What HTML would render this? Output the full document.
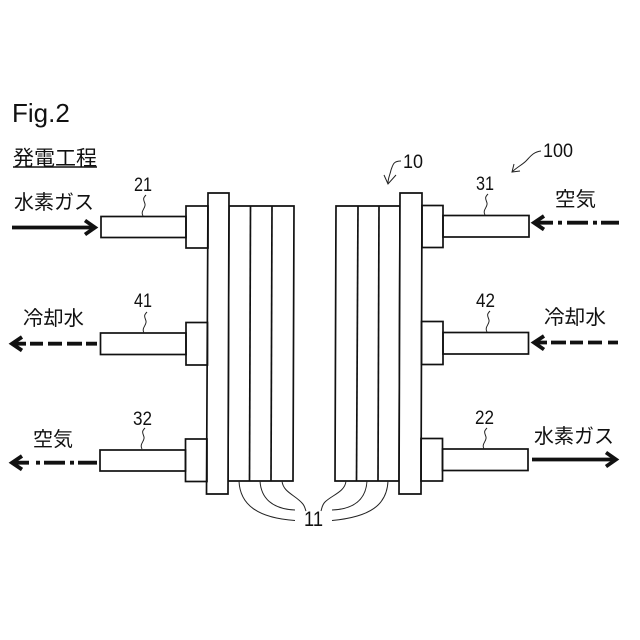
<!DOCTYPE html>
<html><head><meta charset="utf-8"><style>
html,body{margin:0;padding:0;background:#fff}
svg{display:block}
text{font-family:"Liberation Sans","Noto Sans CJK JP",sans-serif;fill:#111}
</style></head><body>
<svg width="640" height="640" viewBox="0 0 640 640" xmlns="http://www.w3.org/2000/svg">
<rect width="640" height="640" fill="#fff"/>
<g fill="none" stroke="#111" stroke-width="1.7">
<!-- left stack -->
<polygon points="229,206 294,206 293,481 228,481"/>
<line x1="250.5" y1="206" x2="249.5" y2="481"/>
<line x1="272" y1="206" x2="271" y2="481"/>
<polygon points="208,193 229,193 228,494 206.5,494" fill="#fff"/>
<rect x="186" y="206" width="22" height="42"/>
<rect x="101" y="216.5" width="85" height="21"/>
<rect x="186" y="322.5" width="21.5" height="42.5"/>
<rect x="100.5" y="333" width="85.5" height="21.5"/>
<rect x="185.5" y="439" width="21.5" height="42.5"/>
<rect x="100" y="450" width="85.5" height="21"/>
<!-- right stack -->
<polygon points="336,206 400,206 399,481 335,481"/>
<line x1="358" y1="206" x2="356.5" y2="481"/>
<line x1="379" y1="206" x2="378" y2="481"/>
<polygon points="400,193 422,193 421,494 399,494" fill="#fff"/>
<rect x="422" y="205.5" width="21" height="42"/>
<rect x="443" y="215.5" width="86" height="21.5"/>
<rect x="421.5" y="321.5" width="21.5" height="43"/>
<rect x="443" y="332.5" width="85.5" height="21.5"/>
<rect x="421" y="438.5" width="21.5" height="42.5"/>
<rect x="442.5" y="449" width="85.5" height="21.5"/>
</g>
<!-- leader squiggles -->
<g fill="none" stroke="#222" stroke-width="1">
<path d="M143,216 C140,211 146,208 145,204 C144,200 142,199 146,195"/>
<path d="M144,333 C141,328 147,325 146,321 C145,317 143,316 147,312"/>
<path d="M142,449 C139,444 145,441 144,437 C143,433 141,432 145,428"/>
<path d="M485,215 C482,210 488,207 487,203 C486,199 484,198 488,194"/>
<path d="M487,332 C484,327 490,324 489,320 C488,316 486,315 490,311"/>
<path d="M484,449 C481,444 487,441 486,437 C485,433 483,432 487,428"/>
<path d="M401,161 C393,161 393,165 391,170 C390,175 388,178 388,183"/>
<path d="M384,175 L388,184 L396,175"/>
<path d="M541,151 C533,152 530,157 526,161 C522,165 517,167 512,172"/>
<path d="M520,171 L512,172 L514,164"/>
<!-- 11 leaders -->
<path d="M239,481 C240,505 258,518 295,520.5"/>
<path d="M260,481 C261,498 272,509 295,510"/>
<path d="M282,481 C283,492 295,495 302,503 C305,506 305,509 306,511"/>
<path d="M388,481 C387,505 370,517 332,520.5"/>
<path d="M367,481 C366,498 356,509 332,510"/>
<path d="M346,481 C345,492 332,495 325,502 C322,505 322,508 321,511"/>
</g>
<!-- arrows -->
<g fill="none" stroke="#111" stroke-linecap="butt" stroke-linejoin="miter" stroke-width="3.8">
<line x1="12" y1="227.5" x2="93" y2="227.5"/>
<path d="M85,220.5 L95,227.5 L85,234.5"/>
<line x1="532" y1="459.5" x2="614" y2="459.5"/>
<path d="M606,452.5 L616,459.5 L606,466.5"/>
<!-- cooling water, left -->
<path d="M22,337 L12,343.7 L22,350.5"/>
<path d="M13,343.7 H26 M30,343.7 H43 M48,343.7 H62 M67,343.7 H82 M86,343.7 H97"/>
<!-- cooling water, right -->
<path d="M544,336 L534,342.5 L544,349.5"/>
<path d="M535,342.5 H547 M551,342.5 H566 M570,342.5 H583 M588,342.5 H602 M608,342.5 H618"/>
<!-- air, left -->
<path d="M22,456 L12,462.7 L22,469.5"/>
<path d="M13,462.7 H29 M36,462.7 H40 M44,462.7 H65 M70,462.7 H74 M78,462.7 H97"/>
<!-- air, right -->
<path d="M544,216 L534,222.7 L544,229.5"/>
<path d="M535,222.7 H553 M558,222.7 H562 M567,222.7 H588 M593,222.7 H597 M601,222.7 H619"/>
</g>
<!-- text -->
<text x="12" y="122" font-size="26">Fig.2</text>
<text x="13" y="165" font-size="20.5" lengthAdjust="spacingAndGlyphs" textLength="84">発電工程</text>
<line x1="13" y1="167" x2="97" y2="167" stroke="#111" stroke-width="1.6"/>
<text x="14" y="209" font-size="20" textLength="80" lengthAdjust="spacingAndGlyphs">水素ガス</text>
<text x="23" y="325" font-size="20" textLength="61" lengthAdjust="spacingAndGlyphs">冷却水</text>
<text x="33" y="446" font-size="20" textLength="40" lengthAdjust="spacingAndGlyphs">空気</text>
<text x="555" y="206" font-size="20" textLength="41" lengthAdjust="spacingAndGlyphs">空気</text>
<text x="544" y="324" font-size="20" textLength="62" lengthAdjust="spacingAndGlyphs">冷却水</text>
<text x="534" y="443" font-size="20" textLength="80" lengthAdjust="spacingAndGlyphs">水素ガス</text>
<g font-size="19" lengthAdjust="spacingAndGlyphs">
<text x="134" y="191" textLength="18" lengthAdjust="spacingAndGlyphs">21</text>
<text x="134" y="307" textLength="18" lengthAdjust="spacingAndGlyphs">41</text>
<text x="133" y="425" textLength="19" lengthAdjust="spacingAndGlyphs">32</text>
<text x="476" y="190" textLength="18" lengthAdjust="spacingAndGlyphs">31</text>
<text x="476" y="307" textLength="19" lengthAdjust="spacingAndGlyphs">42</text>
<text x="475" y="424" textLength="19" lengthAdjust="spacingAndGlyphs">22</text>
<text x="403" y="168" textLength="20" lengthAdjust="spacingAndGlyphs">10</text>
<text x="543" y="157" textLength="30" lengthAdjust="spacingAndGlyphs">100</text>
<text x="304" y="526" font-size="21" textLength="19" lengthAdjust="spacingAndGlyphs">11</text>
</g>
</svg>
</body></html>
